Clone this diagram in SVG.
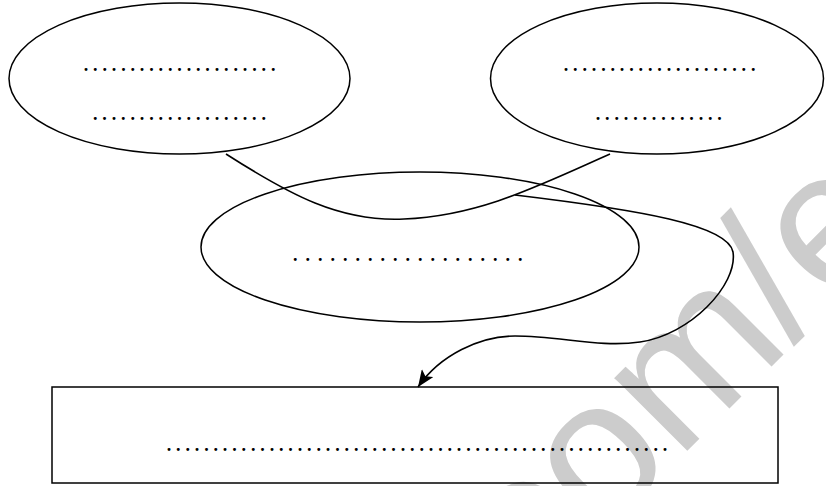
<svg xmlns="http://www.w3.org/2000/svg" width="826" height="486" viewBox="0 0 826 486">
<style>
.shape{fill:none;stroke:#000;stroke-width:1.5}
.conn{fill:none;stroke:#000;stroke-width:1.6}
.dots{font-family:"Liberation Serif",serif;font-size:18px;font-weight:bold;fill:#000;letter-spacing:4.86px}
.wide{letter-spacing:8px}
.wm{font-family:"Liberation Sans",Arial,sans-serif;font-size:195px;fill:#cccccc}
</style>
<defs>
<marker id="arrow" markerUnits="userSpaceOnUse" markerWidth="18" markerHeight="14" refX="17" refY="7" orient="auto">
<path d="M0,0 L17,7 L0,14 L4,7 z" fill="#000"/>
</marker>
</defs>
<rect width="826" height="486" fill="#fff"/>
<text class="wm" transform="translate(532,606) rotate(-45)">com/e</text>
<g id="ellipse-left">
<ellipse class="shape" cx="179.5" cy="78.5" rx="170.5" ry="75.5"/>
<text class="dots" x="83.7" y="70.5">.....................</text>
<text class="dots" x="93" y="120">...................</text>
</g>
<g id="ellipse-right">
<ellipse class="shape" cx="657" cy="78.5" rx="166.5" ry="75.5"/>
<text class="dots" x="563.7" y="70.5">.....................</text>
<text class="dots" x="595.7" y="120">..............</text>
</g>
<g id="ellipse-middle">
<ellipse class="shape" cx="420" cy="247" rx="219" ry="75"/>
<text class="dots wide" x="293" y="260.5">...................</text>
</g>
<g id="box">
<rect class="shape" x="52" y="387" width="726" height="96"/>
<text class="dots" x="166.7" y="450.5">......................................................</text>
</g>
<g id="connectors">
<path class="conn" d="M226,154 C290,195 340,222 404,219 C480,216 540,185 610,154"/>
<path class="conn" marker-end="url(#arrow)" d="M515,195 C640,210 728,225 733,252 C738,285 690,335 640,342 C600,348 560,336 515,336 C480,336 440,355 418,387"/>
</g>
</svg>
